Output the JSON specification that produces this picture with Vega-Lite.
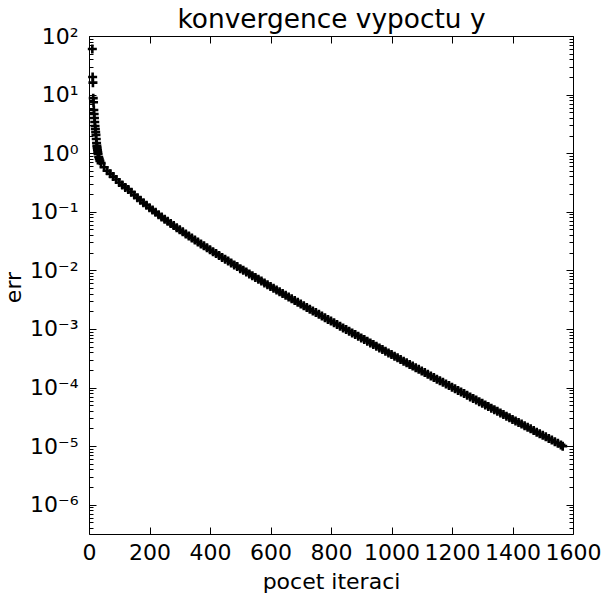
{
  "$schema": "https://vega.github.io/schema/vega-lite/v6.json",
  "width": 484,
  "height": 498,
  "autosize": {"type": "none"},
  "padding": {"left": 89, "top": 36, "right": 32, "bottom": 63},
  "background": "white",
  "config": {
    "view": {"stroke": "black", "strokeWidth": 1},
    "axis": {"grid": false, "domain": false, "labelFont": "DejaVu Sans", "labelFontSize": 22, "labelColor": "black", "tickColor": "black", "tickWidth": 1, "titleFont": "DejaVu Sans", "titleFontSize": 22, "titleFontWeight": "normal", "titleColor": "black", "labelFlush": false, "labelOverlap": false, "labelBound": false}
  },
  "data": {"values": [
    {"i":11,"e":60},{"i":12,"e":20},{"i":13,"e":16},{"i":14,"e":8.7},{"i":15,"e":7.4},{"i":16,"e":5.46},{"i":17,"e":4.67},{"i":18,"e":3.99},{"i":19,"e":3.41},{"i":20,"e":2.91},{"i":21,"e":2.59},{"i":22,"e":2.3},{"i":23,"e":2.05},{"i":24,"e":1.75},{"i":25,"e":1.49},{"i":26,"e":1.33},{"i":27,"e":1.23},{"i":28,"e":1.13},{"i":29,"e":1.05},{"i":30,"e":0.97},{"i":32,"e":0.86},{"i":34,"e":0.8},{"i":36,"e":0.74},
    {"i":40,"e":0.676},{"i":50,"e":0.575},{"i":60,"e":0.501},{"i":70,"e":0.447},{"i":80,"e":0.398},{"i":90,"e":0.355},{"i":100,"e":0.316},{"i":110,"e":0.285},{"i":120,"e":0.26},{"i":130,"e":0.24},{"i":140,"e":0.215},{"i":150,"e":0.193},{"i":160,"e":0.174},{"i":170,"e":0.157},{"i":180,"e":0.142},{"i":190,"e":0.129},{"i":200,"e":0.117},
    {"i":210,"e":0.107},{"i":220,"e":0.0977},{"i":230,"e":0.0893},{"i":240,"e":0.0817},{"i":250,"e":0.0748},{"i":260,"e":0.0687},{"i":270,"e":0.0631},{"i":280,"e":0.0581},{"i":290,"e":0.0535},{"i":300,"e":0.0492},
    {"i":310,"e":0.0454},{"i":320,"e":0.0419},{"i":330,"e":0.0386},{"i":340,"e":0.0357},{"i":350,"e":0.033},{"i":360,"e":0.0305},{"i":370,"e":0.0282},{"i":380,"e":0.0262},{"i":390,"e":0.0242},{"i":400,"e":0.0225},
    {"i":410,"e":0.0208},{"i":420,"e":0.0193},{"i":430,"e":0.0179},{"i":440,"e":0.0166},{"i":450,"e":0.0155},{"i":460,"e":0.0144},{"i":470,"e":0.0134},{"i":480,"e":0.0124},{"i":490,"e":0.0116},{"i":500,"e":0.0107},
    {"i":510,"e":0.01},{"i":520,"e":0.00933},{"i":530,"e":0.00869},{"i":540,"e":0.00809},{"i":550,"e":0.00755},{"i":560,"e":0.00703},{"i":570,"e":0.00655},{"i":580,"e":0.0061},{"i":590,"e":0.00569},{"i":600,"e":0.0053},
    {"i":610,"e":0.00494},{"i":620,"e":0.00461},{"i":630,"e":0.00431},{"i":640,"e":0.00402},{"i":650,"e":0.00375},{"i":660,"e":0.00351},{"i":670,"e":0.00327},{"i":680,"e":0.00305},{"i":690,"e":0.00285},{"i":700,"e":0.00266},
    {"i":710,"e":0.00249},{"i":720,"e":0.00233},{"i":730,"e":0.00217},{"i":740,"e":0.00203},{"i":750,"e":0.0019},{"i":760,"e":0.00178},{"i":770,"e":0.00166},{"i":780,"e":0.00155},{"i":790,"e":0.00145},{"i":800,"e":0.00136},
    {"i":810,"e":0.00127},{"i":820,"e":0.00119},{"i":830,"e":0.00111},{"i":840,"e":0.00104},{"i":850,"e":0.000975},{"i":860,"e":0.000914},{"i":870,"e":0.000855},{"i":880,"e":0.0008},{"i":890,"e":0.00075},{"i":900,"e":0.000701},
    {"i":910,"e":0.000658},{"i":920,"e":0.000615},{"i":930,"e":0.000577},{"i":940,"e":0.000541},{"i":950,"e":0.000506},{"i":960,"e":0.000474},{"i":970,"e":0.000445},{"i":980,"e":0.000416},{"i":990,"e":0.00039},{"i":1000,"e":0.000366},
    {"i":1010,"e":0.000343},{"i":1020,"e":0.000321},{"i":1030,"e":0.000301},{"i":1040,"e":0.000282},{"i":1050,"e":0.000265},{"i":1060,"e":0.000248},{"i":1070,"e":0.000233},{"i":1080,"e":0.000218},{"i":1090,"e":0.000205},{"i":1100,"e":0.000192},
    {"i":1110,"e":0.00018},{"i":1120,"e":0.000169},{"i":1130,"e":0.000158},{"i":1140,"e":0.000149},{"i":1150,"e":0.000139},{"i":1160,"e":0.000131},{"i":1170,"e":0.000123},{"i":1180,"e":0.000115},{"i":1190,"e":0.000108},{"i":1200,"e":0.000101},
    {"i":1210,"e":9.51e-5},{"i":1220,"e":8.93e-5},{"i":1230,"e":8.38e-5},{"i":1240,"e":7.87e-5},{"i":1250,"e":7.38e-5},{"i":1260,"e":6.92e-5},{"i":1270,"e":6.5e-5},{"i":1280,"e":6.1e-5},{"i":1290,"e":5.73e-5},{"i":1300,"e":5.37e-5},
    {"i":1310,"e":5.05e-5},{"i":1320,"e":4.73e-5},{"i":1330,"e":4.45e-5},{"i":1340,"e":4.18e-5},{"i":1350,"e":3.92e-5},{"i":1360,"e":3.68e-5},{"i":1370,"e":3.46e-5},{"i":1380,"e":3.25e-5},{"i":1390,"e":3.05e-5},{"i":1400,"e":2.86e-5},
    {"i":1410,"e":2.69e-5},{"i":1420,"e":2.53e-5},{"i":1430,"e":2.38e-5},{"i":1440,"e":2.23e-5},{"i":1450,"e":2.09e-5},{"i":1460,"e":1.97e-5},{"i":1470,"e":1.85e-5},{"i":1480,"e":1.73e-5},{"i":1490,"e":1.63e-5},{"i":1500,"e":1.53e-5},
    {"i":1510,"e":1.44e-5},{"i":1520,"e":1.35e-5},{"i":1530,"e":1.27e-5},{"i":1540,"e":1.19e-5},{"i":1550,"e":1.12e-5},{"i":1560,"e":1.05e-5},{"i":1566,"e":9.99e-6}
  ]},
  "layer": [
    {
      "mark": {"type": "point", "shape": "M-1,0H1M0,-1V1", "filled": false, "stroke": "black", "strokeWidth": 2.6, "size": 81, "opacity": 1},
      "encoding": {
        "x": {"field": "i", "type": "quantitative", "scale": {"domain": [0, 1600], "nice": false, "zero": false},
          "axis": {"orient": "bottom", "values": [0,200,400,600,800,1000,1200,1400,1600], "format": "d", "tickSize": -7, "labelPadding": 32, "labelBaseline": "alphabetic", "title": "pocet iteraci", "titleX": 242, "titleY": 54, "titleBaseline": "alphabetic", "titleAlign": "center", "titleAnchor": null}},
        "y": {"field": "e", "type": "quantitative", "scale": {"type": "log", "domain": [3.1623e-7, 100], "nice": false},
          "axis": {"orient": "left",
            "values": [4e-7,5e-7,6e-7,7e-7,8e-7,9e-7,1e-6,2e-6,3e-6,4e-6,5e-6,6e-6,7e-6,8e-6,9e-6,1e-5,2e-5,3e-5,4e-5,5e-5,6e-5,7e-5,8e-5,9e-5,1e-4,2e-4,3e-4,4e-4,5e-4,6e-4,7e-4,8e-4,9e-4,0.001,0.002,0.003,0.004,0.005,0.006,0.007,0.008,0.009,0.01,0.02,0.03,0.04,0.05,0.06,0.07,0.08,0.09,0.1,0.2,0.3,0.4,0.5,0.6,0.7,0.8,0.9,1,2,3,4,5,6,7,8,9,10,20,30,40,50,60,70,80,90,100],
            "tickSize": {"condition": {"test": "abs(log(datum.value)/LN10 - round(log(datum.value)/LN10)) < 0.001", "value": -7}, "value": -4},
            "labelPadding": 18,
            "labelExpr": "abs(log(datum.value)/LN10 - round(log(datum.value)/LN10)) < 0.001 ? '10' + replace(replace(replace(replace(replace(replace(replace(replace(toString(round(log(datum.value)/LN10)),'-','⁻'),'0','⁰'),'1','¹'),'2','²'),'3','³'),'4','⁴'),'5','⁵'),'6','⁶') : ''",
            "title": "err", "titleX": -69, "titleY": 251, "titleAngle": -90, "titleBaseline": "alphabetic", "titleAlign": "center", "titleAnchor": null}}
      }
    },
    {
      "mark": {"type": "point", "opacity": 0},
      "encoding": {
        "x": {"field": "i", "type": "quantitative",
          "axis": {"orient": "top", "values": [0,200,400,600,800,1000,1200,1400,1600], "tickSize": -7, "labels": false,
            "title": "konvergence vypoctu y", "titleFontSize": 26.4, "titleX": 242, "titleY": -9, "titleAngle": 0, "titleBaseline": "alphabetic", "titleAlign": "center", "titleAnchor": null}},
        "y": {"field": "e", "type": "quantitative",
          "axis": {"orient": "right",
            "values": [4e-7,5e-7,6e-7,7e-7,8e-7,9e-7,1e-6,2e-6,3e-6,4e-6,5e-6,6e-6,7e-6,8e-6,9e-6,1e-5,2e-5,3e-5,4e-5,5e-5,6e-5,7e-5,8e-5,9e-5,1e-4,2e-4,3e-4,4e-4,5e-4,6e-4,7e-4,8e-4,9e-4,0.001,0.002,0.003,0.004,0.005,0.006,0.007,0.008,0.009,0.01,0.02,0.03,0.04,0.05,0.06,0.07,0.08,0.09,0.1,0.2,0.3,0.4,0.5,0.6,0.7,0.8,0.9,1,2,3,4,5,6,7,8,9,10,20,30,40,50,60,70,80,90,100],
            "tickSize": {"condition": {"test": "abs(log(datum.value)/LN10 - round(log(datum.value)/LN10)) < 0.001", "value": -7}, "value": -4},
            "labels": false, "title": null}}
      }
    }
  ],
  "resolve": {"axis": {"x": "independent", "y": "independent"}}
}
